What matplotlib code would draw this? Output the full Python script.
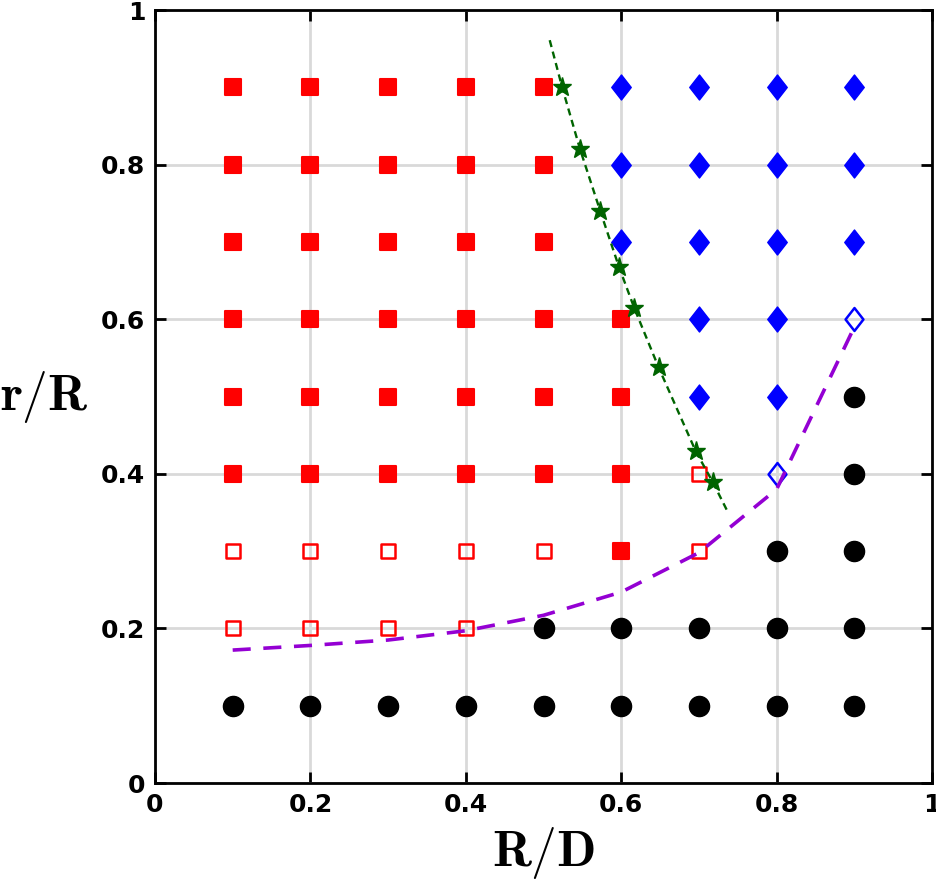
import matplotlib
matplotlib.use('Agg')
import matplotlib.pyplot as plt
from matplotlib.markers import MarkerStyle
from matplotlib.path import Path
import numpy as np

# grid of simulated cases
rd_values = [0.1, 0.2, 0.3, 0.4, 0.5, 0.6, 0.7, 0.8, 0.9]
rr_values = [0.1, 0.2, 0.3, 0.4, 0.5, 0.6, 0.7, 0.8, 0.9]

# regime per row (r/R from 0.1 upwards), one code per R/D column
# C = black circle, S = red square, s = open red square,
# D = blue diamond, d = open blue diamond
regime = [
    "CCCCCCCCC",
    "ssssCCCCC",
    "sssssSsCC",
    "SSSSSSsdC",
    "SSSSSSDDC",
    "SSSSSSDDd",
    "SSSSSDDDD",
    "SSSSSDDDD",
    "SSSSSDDDD",
]

# green stars and the curve through them
star_rd = [0.524, 0.547, 0.573, 0.597, 0.617, 0.648, 0.696, 0.718]
star_rr = [0.900, 0.820, 0.740, 0.668, 0.614, 0.538, 0.429, 0.389]
green_rd = [0.508, 0.524, 0.547, 0.573, 0.597, 0.617, 0.648, 0.696, 0.718, 0.736]
green_rr = [0.961, 0.900, 0.820, 0.740, 0.668, 0.614, 0.538, 0.429, 0.389, 0.353]

# purple boundary
purple_rd = [0.1, 0.2, 0.3, 0.4, 0.5, 0.6, 0.7, 0.8, 0.9]
purple_rr = [0.172, 0.178, 0.185, 0.197, 0.217, 0.247, 0.298, 0.380, 0.590]

ticks = [0, 0.2, 0.4, 0.6, 0.8, 1]
tick_labels = ["0", "0.2", "0.4", "0.6", "0.8", "1"]

# wider diamond than matplotlib's thin one
diamond = Path([(0, 1), (0.78, 0), (0, -1), (-0.78, 0), (0, 1)],
               [Path.MOVETO, Path.LINETO, Path.LINETO, Path.LINETO, Path.CLOSEPOLY])
sq = MarkerStyle('s', joinstyle='round')
dm = MarkerStyle(diamond, joinstyle='round')

styles = {
    'C': dict(marker='o', color='black', ms=14.5, mec='black'),
    'S': dict(marker=sq, color='red', ms=11, mec='red', mew=1.5),
    's': dict(marker=sq, color='red', ms=9.5, mec='red', mfc='none', mew=1.8),
    'D': dict(marker=dm, color='blue', ms=18, mec='blue', mew=1.0),
    'd': dict(marker=dm, color='blue', ms=16.5, mec='blue', mfc='none', mew=1.8),
}

plt.rcParams['mathtext.fontset'] = 'cm'

fig = plt.figure(figsize=(9.37, 8.81), dpi=100)
ax = fig.add_axes([0.1654, 0.1112, 0.8293, 0.8774])

for code, st in styles.items():
    xs, ys = [], []
    for i, row in enumerate(regime):
        for j, c in enumerate(row):
            if c == code:
                xs.append(rd_values[j])
                ys.append(rr_values[i])
    ax.plot(xs, ys, linestyle='none', zorder=3, **st)

ax.plot(purple_rd, purple_rr, linestyle=(0, (5, 3.5)), color='#9400d3', lw=2.6, zorder=4)
ax.plot(green_rd, green_rr, linestyle=(0, (3, 2)), color='#006400', lw=1.7, zorder=4)
ax.plot(star_rd, star_rr, linestyle='none', marker='*', color='#006400', ms=14, zorder=5)

ax.set_xlim(0, 1)
ax.set_ylim(0, 1)
ax.set_xticks(ticks)
ax.set_yticks(ticks)
ax.set_xticklabels(tick_labels, fontsize=18, fontweight='bold')
ax.set_yticklabels(tick_labels, fontsize=18, fontweight='bold')
ax.tick_params(direction='in', length=8, width=2, top=True, right=True, pad=7)
ax.grid(True, color='#d9d9d9', lw=2)
ax.set_axisbelow(True)
for sp in ax.spines.values():
    sp.set_linewidth(2)

ax.set_xlabel(r'$\mathbf{R/D}$', fontsize=37, labelpad=6)
ax.set_ylabel(r'$\mathbf{r/R}$', fontsize=37, rotation=0, labelpad=41, va='center')

fig.savefig('out.png', dpi=100)
